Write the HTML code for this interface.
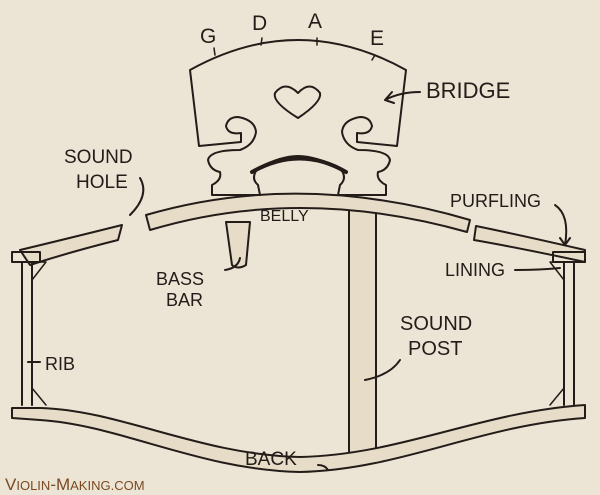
<!DOCTYPE html>
<html><head><style>
html,body{margin:0;padding:0;background:#ece5d5;}
svg{display:block}
text{font-family:"Liberation Sans",sans-serif;fill:#231c18;}
</style></head><body>
<svg width="600" height="495" viewBox="0 0 600 495" xmlns="http://www.w3.org/2000/svg">
<rect width="600" height="495" fill="#ece5d5"/>
<g fill="none" stroke="#231c18" stroke-width="2" stroke-linejoin="round" stroke-linecap="round">
<!-- sound post -->
<path d="M349,205 L376,205 L376,460 L349,460 Z" fill="#e6dcc8"/>
<!-- bass bar -->
<path d="M226,222 L250,222 L246,265 Q238,270 232,265 Z" fill="#e6dcc8"/>
<!-- belly -->
<path d="M146,215 Q300,170 470,220 L467,232 Q300,185 150,230 Z" fill="#e6dcc8"/>
<path d="M20,250 Q70,238 122,225 L118,240 Q70,252 30,265 Z" fill="#e6dcc8"/>
<path d="M476,226 Q520,235 585,250 L585,262 Q520,248 474,240 Z" fill="#e6dcc8"/>
<!-- bridge -->
<path d="M190,70 Q298,10 406,70 L397,146 L357,142 L357,133 Q370,135 372,126 Q370,117 360,117 Q343,120 342,132 Q344,145 358,150 Q388,150 390,160 Q388,170 378,172 Q376,180 386,185 L386,195 L338,195 L340,185 Q348,178 340,168 Q315,156 298,156 Q281,156 258,168 Q250,178 258,185 L260,195 L212,195 L212,185 Q222,180 220,172 Q210,170 208,160 Q210,150 240,150 Q254,145 256,132 Q255,120 238,117 Q228,117 226,126 Q228,135 241,133 L241,142 L199,146 Z" fill="#ece5d5"/>
<path d="M275,93 Q285,80 298,93 Q310,80 320,93 Q322,102 298,118 Q272,102 275,93 Z"/>
<path d="M252,172 Q300,145 346,172" stroke-width="4"/>
<path d="M215,55 L214,48 M262,38 L261,45 M317,38 L317,45 M375,55 L372,60" stroke-width="1.5"/>
<!-- ribs -->
<path d="M12,252 L40,252 L40,262 L12,262 Z M22,262 L22,405 M32,262 L32,405"/>
<path d="M553,252 L585,252 L585,262 L553,262 Z M564,262 L564,405 M574,262 L574,405"/>
<!-- back -->
<path d="M12,408 L40,408 C120,410 200,455 300,457 C400,455 480,412 585,405 L585,418 C480,425 400,470 300,472 C200,470 120,425 40,420 L12,418 Z" fill="#e6dcc8"/>
<path d="M32,262 L46,262 L32,280 M32,405 L32,388 L46,405 M564,262 L550,262 L564,280 M564,405 L564,388 L550,405" stroke-width="1.5"/>
<!-- pointers -->
<path d="M420,92 Q400,92 385,100 M385,100 L392,92 M385,100 L394,103"/>
<path d="M140,178 Q150,195 130,215"/>
<path d="M555,205 Q570,215 565,245 M565,245 L560,238 M565,245 L570,238"/>
<path d="M515,270 Q540,270 560,268"/>
<path d="M225,270 Q238,268 240,258"/>
<path d="M400,360 Q390,375 365,380"/>
<path d="M40,362 L28,362"/>
<path d="M318,465 Q325,465 328,470"/>
</g>
<g font-size="21">
<text x="200" y="43">G</text><text x="252" y="30">D</text><text x="308" y="28">A</text><text x="370" y="45">E</text>
<text x="426" y="98" font-size="22">BRIDGE</text>
<text x="64" y="163" font-size="19">SOUND</text><text x="76" y="188" font-size="19">HOLE</text>
<text x="450" y="207" font-size="18">PURFLING</text>
<text x="445" y="276" font-size="18">LINING</text>
<text x="260" y="221" font-size="16">BELLY</text>
<text x="156" y="285" font-size="18">BASS</text><text x="166" y="306" font-size="18">BAR</text>
<text x="400" y="330" font-size="20">SOUND</text><text x="408" y="355" font-size="20">POST</text>
<text x="45" y="370" font-size="18">RIB</text>
<text x="245" y="465" font-size="19">BACK</text>
</g>
<text x="5" y="490" font-family="Liberation Serif,serif" font-size="17" style="fill:#7a4a22">V<tspan font-size="13">IOLIN</tspan>-M<tspan font-size="13">AKING.COM</tspan></text>
</svg>
</body></html>
